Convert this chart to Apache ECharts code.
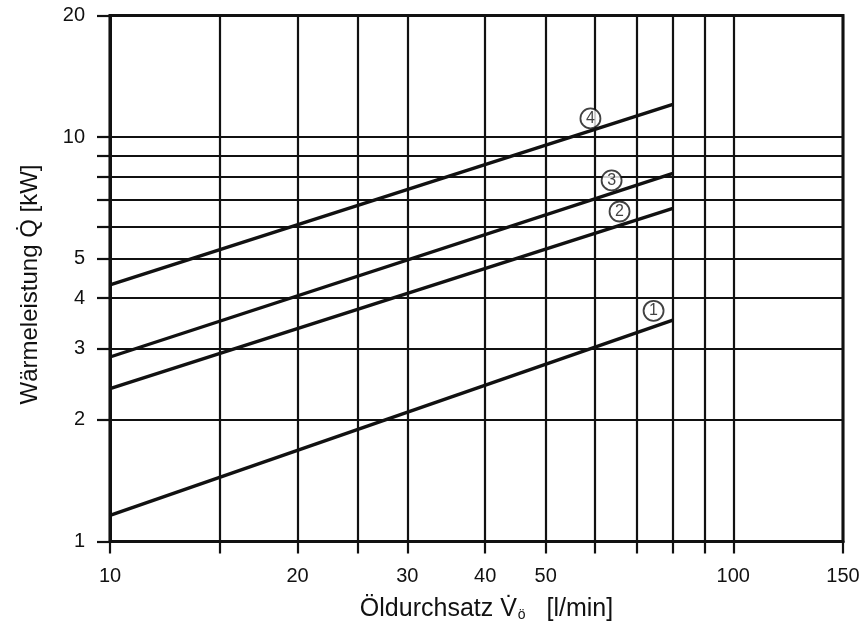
<!DOCTYPE html>
<html>
<head>
<meta charset="utf-8">
<script src="https://cdn.jsdelivr.net/npm/echarts@6/dist/echarts.min.js"></script>
<style>
  html, body { margin: 0; padding: 0; background: #fff; }
  #chart { width: 865px; height: 630px; }
</style>
</head>
<body>
<div id="chart"></div>
<script>
// Oil flow rate [l/min] at the start and end of each characteristic line
const flowRate = [10, 80];

// Heat output [kW] for the four heater variants
const power1 = [1.16, 3.53];
const power2 = [2.39, 6.67];
const power3 = [2.86, 8.14];
const power4 = [4.31, 12.06];

// Grid and label values of the logarithmic axes
const xGridValues = [10, 15, 20, 25, 30, 40, 50, 60, 70, 80, 90, 100, 150];
const xLabelValues = [10, 20, 30, 40, 50, 100, 150];
const yGridValues = [1, 2, 3, 4, 5, 6, 7, 8, 9, 10, 20];
const yLabelValues = [1, 2, 3, 4, 5, 10, 20];

// Circled curve numbers and where they sit (flow, power)
const tagNames = ['1', '2', '3', '4'];
const tagFlow = [74.5, 65.7, 63.8, 59.0];
const tagPower = [3.72, 6.55, 7.82, 11.13];

const ink = '#111';
const font = '"Liberation Sans", Arial, Helvetica, sans-serif';

function curve(values) {
  return {
    type: 'line',
    data: flowRate.map((x, i) => [x, values[i]]),
    showSymbol: false,
    symbol: 'none',
    lineStyle: { color: ink, width: 3.4 },
    z: 5,
    animation: false
  };
}

const chart = echarts.init(document.getElementById('chart'), null, { renderer: 'canvas' });

chart.setOption({
  backgroundColor: '#fff',
  animation: false,
  grid: {
    left: 110, right: 22, top: 15.5, bottom: 88.5,
    show: true, borderColor: ink, borderWidth: 3, backgroundColor: 'transparent'
  },
  xAxis: {
    type: 'log',
    logBase: 10,
    min: 10,
    max: 150,
    name: 'Öldurchsatz {v|V̇}{sub|ö}   [l/min]',
    nameLocation: 'middle',
    nameGap: 55,
    nameTextStyle: {
      fontFamily: font, fontSize: 25, color: ink,
      padding: [0, 0, 0, 20],
      rich: {
        v: { fontFamily: font, fontSize: 25, color: ink },
        sub: { fontFamily: font, fontSize: 14, color: ink, padding: [12, 0, 0, 1] }
      }
    },
    axisLine: { show: true, lineStyle: { color: ink, width: 3 } },
    axisTick: { show: true, customValues: xGridValues, length: 12, lineStyle: { color: ink, width: 2.2 } },
    minorTick: { show: false },
    axisLabel: { customValues: xLabelValues, margin: 25, fontFamily: font, fontSize: 20, color: ink },
    splitLine: { show: true, lineStyle: { color: ink, width: 2.2 } },
    minorSplitLine: { show: false }
  },
  yAxis: {
    type: 'log',
    logBase: 10,
    min: 1,
    max: 20,
    name: 'Wärmeleistung Q̇ [kW]',
    nameLocation: 'middle',
    nameGap: 68,
    nameTextStyle: { fontFamily: font, fontSize: 24, color: ink, padding: [0, 12, 0, 0] },
    axisLine: { show: true, lineStyle: { color: ink, width: 3 } },
    axisTick: { show: true, customValues: yGridValues, length: 13, lineStyle: { color: ink, width: 2.2 } },
    minorTick: { show: false },
    axisLabel: { customValues: yLabelValues, margin: 25, fontFamily: font, fontSize: 20, color: ink },
    splitLine: { show: true, lineStyle: { color: ink, width: 2.2 } },
    minorSplitLine: { show: false }
  },
  series: [
    curve(power1),
    curve(power2),
    curve(power3),
    curve(power4),
    {
      type: 'scatter',
      data: tagNames.map((n, i) => ({ value: [tagFlow[i], tagPower[i]], name: n })),
      symbol: 'circle',
      symbolSize: 20,
      itemStyle: { color: '#fff', borderColor: ink, borderWidth: 1.8 },
      label: {
        show: true, position: 'inside', formatter: '{b}',
        fontFamily: font, fontSize: 16, color: ink
      },
      z: 6,
      animation: false
    }
  ]
});
</script>
</body>
</html>
